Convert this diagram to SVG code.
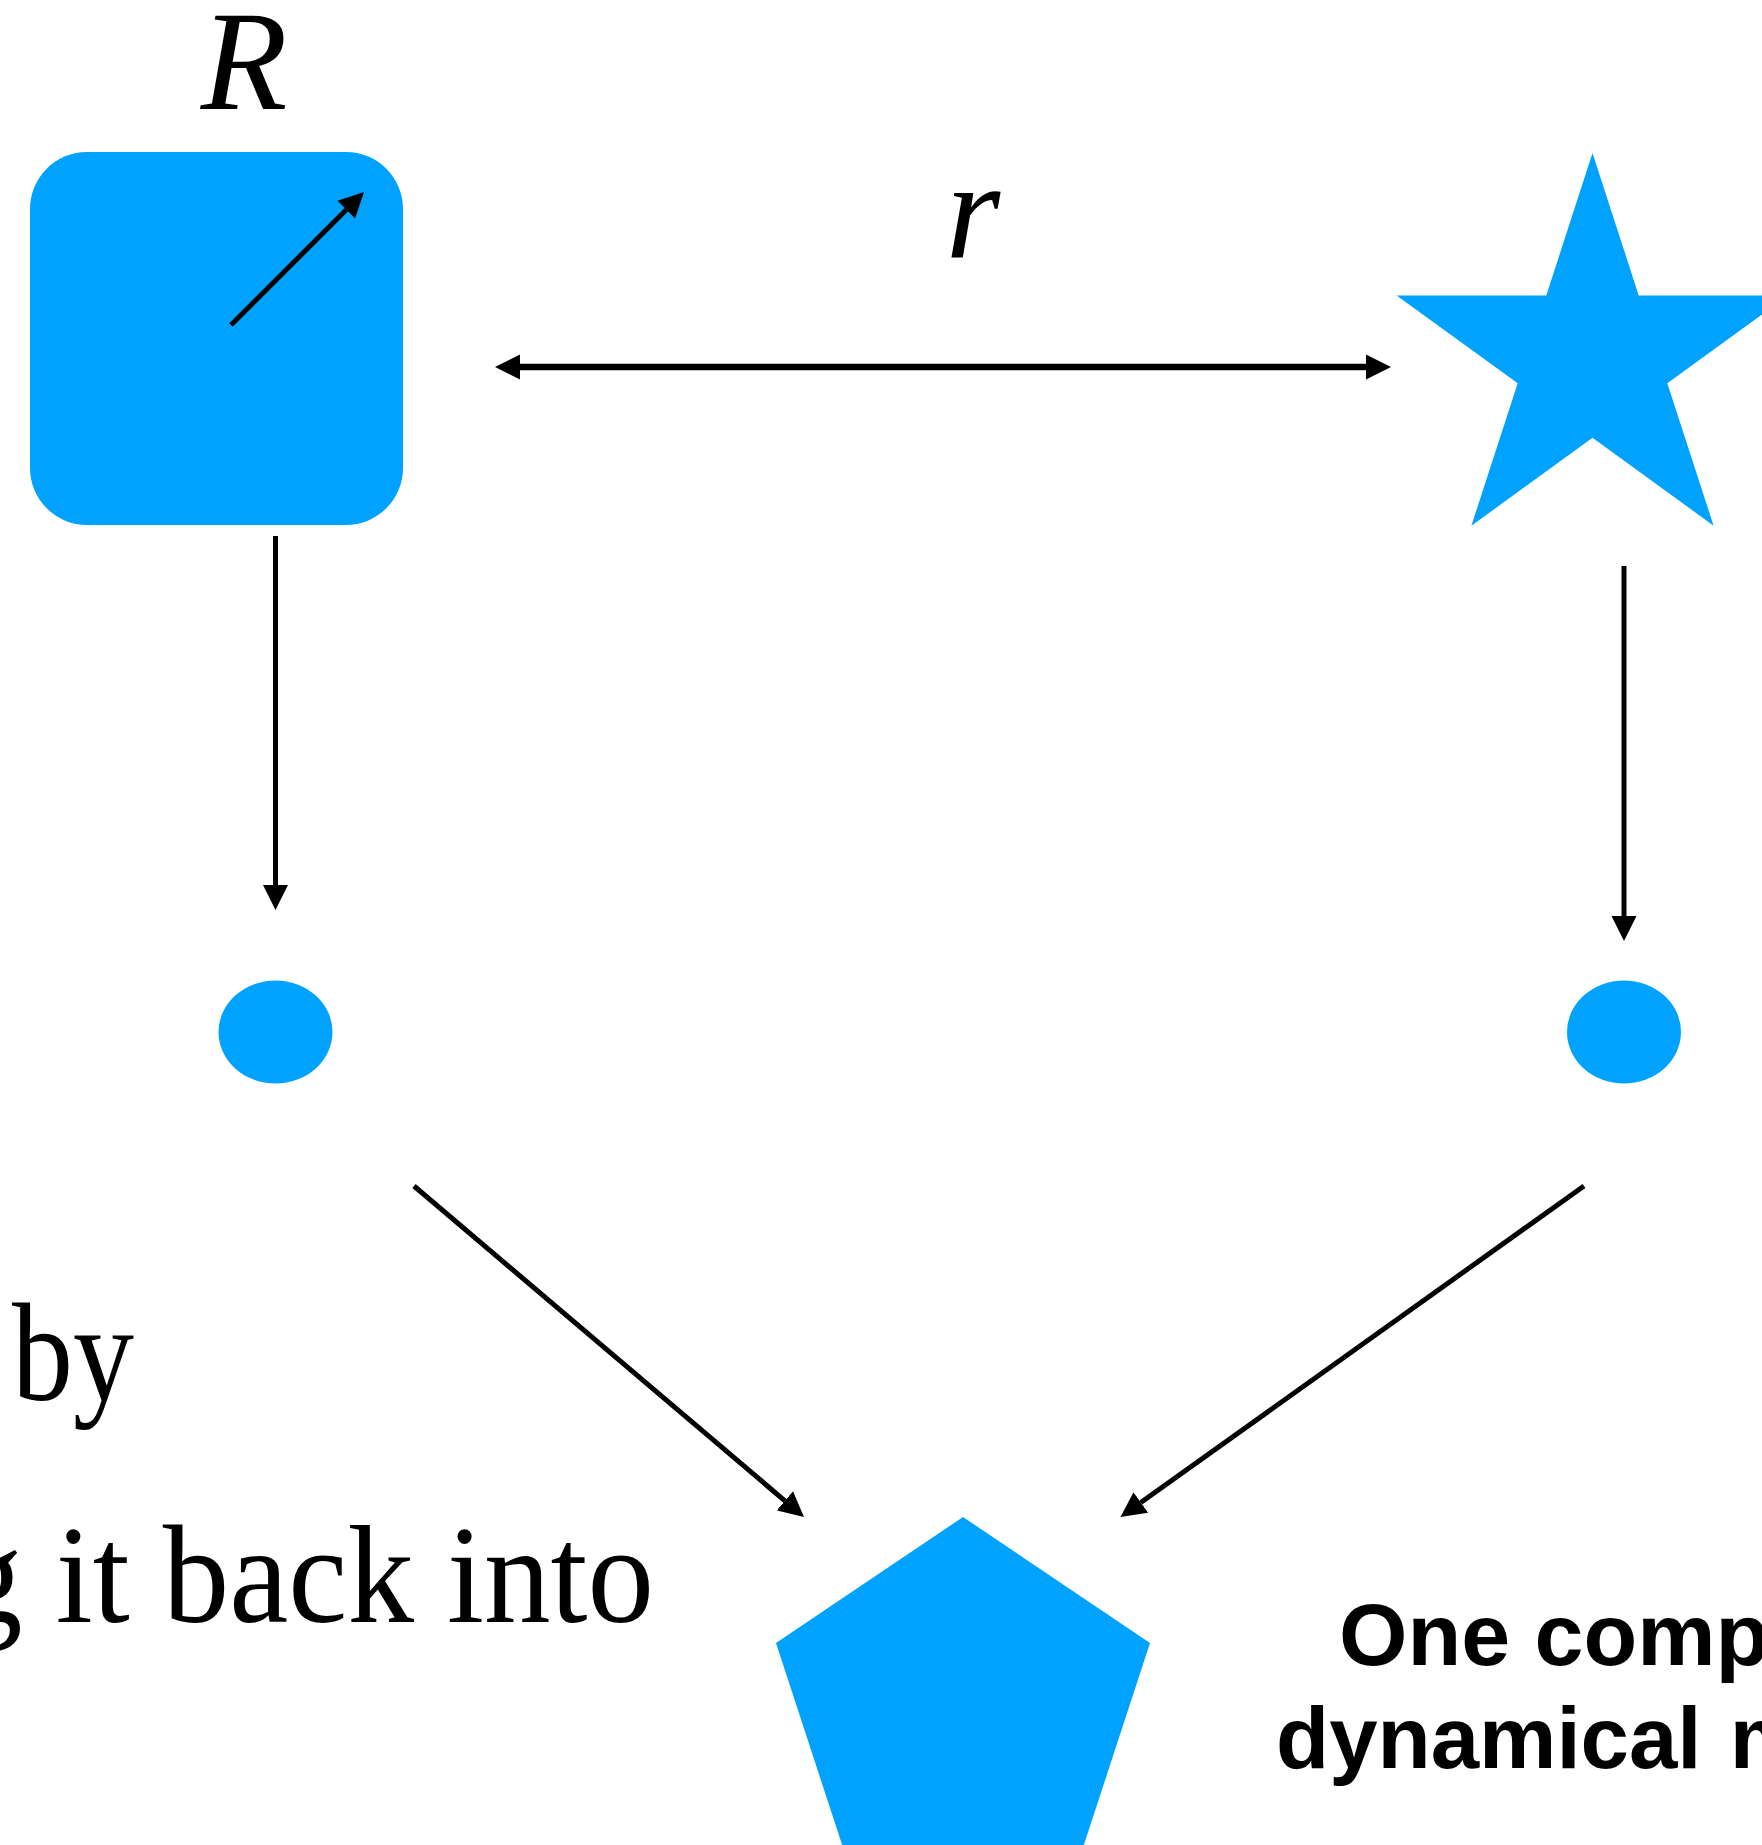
<svg xmlns="http://www.w3.org/2000/svg" width="1762" height="1845" viewBox="0 0 1762 1845">
<style>
.shape{fill:#00A2FF;stroke:none}
.conn{stroke:#000;fill:none;stroke-linecap:butt}
.thin{stroke-width:5}
.thick{stroke-width:6.5}
.math{font-family:"Liberation Serif","Times New Roman",serif;font-style:italic;fill:#000}
.body{font-family:"Liberation Serif","Times New Roman",serif;fill:#000}
.bold{font-family:"Liberation Sans",Arial,sans-serif;font-weight:bold;fill:#000}
</style>
<defs>
<marker id="ah" markerUnits="userSpaceOnUse" markerWidth="26" markerHeight="26" refX="0" refY="12.5" orient="auto-start-reverse" viewBox="0 0 26 25">
<path d="M0,0 L25,12.5 L0,25 z" fill="#000"/>
</marker>
</defs>
<rect width="1762" height="1845" fill="#fff"/>
<g id="node-square">
<rect class="shape" x="30" y="152" width="373" height="373" rx="57" ry="57"/>
<line class="conn thin" x1="231" y1="325" x2="346.3" y2="209.7" marker-end="url(#ah)"/>
</g>
<g id="label-R"><text class="math" x="244" y="109" font-size="142" text-anchor="middle">R</text></g>
<g id="label-r"><text class="math" x="973" y="257" font-size="140" text-anchor="middle">r</text></g>
<g id="node-star">
<polygon class="shape" points="1592.5,153 1638.7,295.4 1788.4,295.4 1667.3,383.3 1713.6,525.7 1592.5,437.7 1471.4,525.7 1517.7,383.3 1396.6,295.4 1546.3,295.4"/>
</g>
<g id="node-circle-left"><ellipse class="shape" cx="275.5" cy="1032" rx="57" ry="51.5"/></g>
<g id="node-circle-right"><ellipse class="shape" cx="1624" cy="1032" rx="57" ry="51.5"/></g>
<g id="node-pentagon">
<polygon class="shape" points="963,1517 1150,1643 1075,1872 851,1872 776,1643"/>
</g>
<g id="connectors">
<line class="conn thick" x1="520" y1="367" x2="1366" y2="367" marker-start="url(#ah)" marker-end="url(#ah)"/>
<line class="conn thin" x1="275.5" y1="536" x2="275.5" y2="885" marker-end="url(#ah)"/>
<line class="conn thin" x1="1624" y1="566" x2="1624" y2="916" marker-end="url(#ah)"/>
<line class="conn thin" x1="414" y1="1186" x2="784.9" y2="1500.8" marker-end="url(#ah)"/>
<line class="conn thin" x1="1584" y1="1186" x2="1140.8" y2="1502.5" marker-end="url(#ah)"/>
</g>
<g id="text-left">
<text class="body" x="12" y="1400" font-size="140" textLength="122" lengthAdjust="spacingAndGlyphs">by</text>
<text class="body" x="-44" y="1622" font-size="140" textLength="698" lengthAdjust="spacingAndGlyphs">g it back into</text>
</g>
<g id="text-right">
<text class="bold" x="1339" y="1665" font-size="88">One comp</text>
<text class="bold" x="1276" y="1768" font-size="87" word-spacing="4">dynamical m</text>
</g>
</svg>
